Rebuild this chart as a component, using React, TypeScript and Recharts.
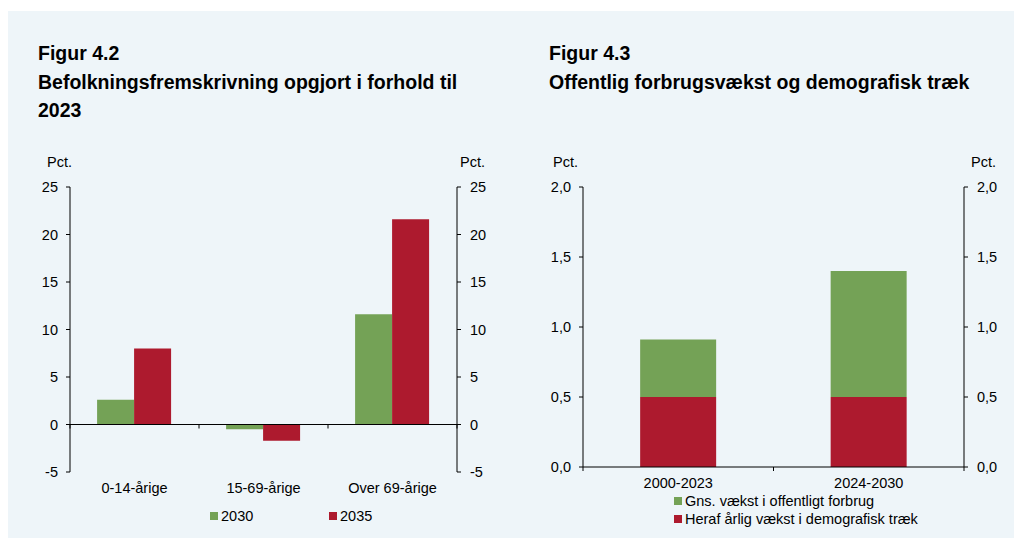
import React from 'react';
import { BarChart, Bar, XAxis, YAxis, ReferenceLine, Legend } from 'recharts';

// Figur 4.2
const ageGroups = ['0-14-årige', '15-69-årige', 'Over 69-årige'];
const growth2030 = [2.6, -0.5, 11.6];
const growth2035 = [8.0, -1.7, 21.6];
const popTicks = [-5, 0, 5, 10, 15, 20, 25];

// Figur 4.3
const periods = ['2000-2023', '2024-2030'];
const demographic = [0.5, 0.5];
const remainder = [0.41, 0.9];
const consTicks = [0, 0.5, 1.0, 1.5, 2.0];

const GREEN = '#74a256';
const RED = '#ad1a2e';
const FONT = '"Liberation Sans", Arial, sans-serif';
const FS = 14.5;

const popData = ageGroups.map((name, i) => ({ name, y2030: growth2030[i], y2035: growth2035[i] }));
const consData = periods.map((name, i) => ({ name, demo: demographic[i], rest: remainder[i] }));

const tickStyle = { fill: '#000', fontSize: FS, fontFamily: FONT };
const comma = (v: number) => v.toFixed(1).replace('.', ',');

// zero line with small ticks at category boundaries
const zeroLine = (n: number) => (props: any) => {
  const { x1, x2, y1 } = props;
  const step = (x2 - x1) / n;
  const ticks = [];
  for (let i = 0; i <= n; i++) {
    const x = x1 + i * step;
    ticks.push(<line key={i} x1={x} x2={x} y1={y1} y2={y1 + 4} stroke="#000" strokeWidth={1} />);
  }
  return (
    <g>
      <line x1={x1} x2={x2} y1={y1} y2={y1} stroke="#000" strokeWidth={1} />
      {ticks}
    </g>
  );
};

const RowLegend = ({ payload }: any) => (
  <div style={{ display: 'flex', fontFamily: FONT, fontSize: FS, color: '#000' }}>
    {(payload || []).map((p: any) => (
      <div key={p.value} style={{ width: 119, display: 'flex', alignItems: 'center' }}>
        <span style={{ width: 8, height: 8, background: p.color, marginRight: 3, display: 'inline-block' }} />
        {p.value}
      </div>
    ))}
  </div>
);

const ColLegend = ({ payload }: any) => (
  <div style={{ fontFamily: FONT, fontSize: FS, color: '#000' }}>
    {(payload || []).map((p: any) => (
      <div key={p.value} style={{ height: 18, display: 'flex', alignItems: 'center' }}>
        <span style={{ width: 8, height: 8, background: p.color, marginRight: 3, display: 'inline-block' }} />
        {p.value}
      </div>
    ))}
  </div>
);

const titleStyle: React.CSSProperties = {
  position: 'absolute',
  fontFamily: FONT,
  fontWeight: 'bold',
  fontSize: 19.5,
  lineHeight: '28.5px',
  color: '#000',
};

const pctStyle: React.CSSProperties = {
  position: 'absolute',
  fontFamily: FONT,
  fontSize: FS,
  color: '#000',
};

export default function App() {
  return (
    <div style={{ position: 'absolute', left: 0, top: 0, width: 1014, height: 538, background: '#fff', overflow: 'hidden' }}>
      <div style={{ position: 'absolute', left: 8, top: 11, right: 0, bottom: 0, background: '#eef5f9' }} />

      <div style={{ ...titleStyle, left: 38, top: 39, width: 460 }}>
        Figur 4.2
        <br />
        Befolkningsfremskrivning opgjort i forhold til 2023
      </div>
      <div style={{ ...titleStyle, left: 549, top: 39, width: 460 }}>
        Figur 4.3
        <br />
        Offentlig forbrugsvækst og demografisk træk
      </div>

      <div style={{ ...pctStyle, left: 47, top: 154 }}>Pct.</div>
      <div style={{ ...pctStyle, left: 460, top: 154 }}>Pct.</div>
      <div style={{ ...pctStyle, left: 553, top: 154 }}>Pct.</div>
      <div style={{ ...pctStyle, left: 971, top: 154 }}>Pct.</div>

      <div style={{ position: 'absolute', left: 0, top: 140 }}>
        <BarChart
          width={520}
          height={398}
          data={popData}
          margin={{ top: 47, right: 20, bottom: 36, left: 20 }}
          barCategoryGap="21%"
          barGap={0}
        >
          <XAxis dataKey="name" axisLine={false} tickLine={false} tick={tickStyle} tickMargin={5} height={30} interval={0} />
          <YAxis
            yAxisId="left"
            domain={[-5, 25]}
            ticks={popTicks}
            tick={tickStyle}
            width={50}
            tickSize={4}
            tickMargin={8}
            axisLine={{ stroke: '#000' }}
            tickLine={{ stroke: '#000' }}
          />
          <YAxis
            yAxisId="right"
            orientation="right"
            domain={[-5, 25]}
            allowDataOverflow
            ticks={popTicks}
            tick={tickStyle}
            width={43}
            tickSize={4}
            tickMargin={9}
            axisLine={{ stroke: '#000' }}
            tickLine={{ stroke: '#000' }}
          />
          <Legend
            verticalAlign="middle"
            content={<RowLegend />}
            wrapperStyle={{ top: 368, left: 210, width: 300 }}
          />
          <Bar yAxisId="left" dataKey="y2030" name="2030" fill={GREEN} isAnimationActive={false} />
          <Bar yAxisId="left" dataKey="y2035" name="2035" fill={RED} isAnimationActive={false} />
          <ReferenceLine yAxisId="left" y={0} shape={zeroLine(ageGroups.length)} />
        </BarChart>
      </div>

      <div style={{ position: 'absolute', left: 520, top: 140 }}>
        <BarChart
          width={494}
          height={398}
          data={consData}
          margin={{ top: 47, right: 10, bottom: 41, left: 13 }}
          barCategoryGap="30%"
        >
          <XAxis dataKey="name" axisLine={false} tickLine={false} tick={tickStyle} tickMargin={5} height={30} interval={0} />
          <YAxis
            yAxisId="left"
            domain={[0, 2]}
            ticks={consTicks}
            tickFormatter={comma}
            tick={tickStyle}
            width={50}
            tickSize={4}
            tickMargin={8}
            axisLine={{ stroke: '#000' }}
            tickLine={{ stroke: '#000' }}
          />
          <YAxis
            yAxisId="right"
            orientation="right"
            domain={[0, 2]}
            allowDataOverflow
            ticks={consTicks}
            tickFormatter={comma}
            tick={tickStyle}
            width={40}
            tickSize={4}
            tickMargin={9}
            axisLine={{ stroke: '#000' }}
            tickLine={{ stroke: '#000' }}
          />
          <Legend
            verticalAlign="middle"
            content={<ColLegend />}
            wrapperStyle={{ top: 352, left: 154, width: 320 }}
          />
          <Bar yAxisId="left" dataKey="demo" stackId="a" name="Heraf årlig vækst i demografisk træk" fill={RED} isAnimationActive={false} />
          <Bar yAxisId="left" dataKey="rest" stackId="a" name="Gns. vækst i offentligt forbrug" fill={GREEN} isAnimationActive={false} />
          <ReferenceLine yAxisId="left" y={0} shape={zeroLine(periods.length)} />
        </BarChart>
      </div>
    </div>
  );
}
